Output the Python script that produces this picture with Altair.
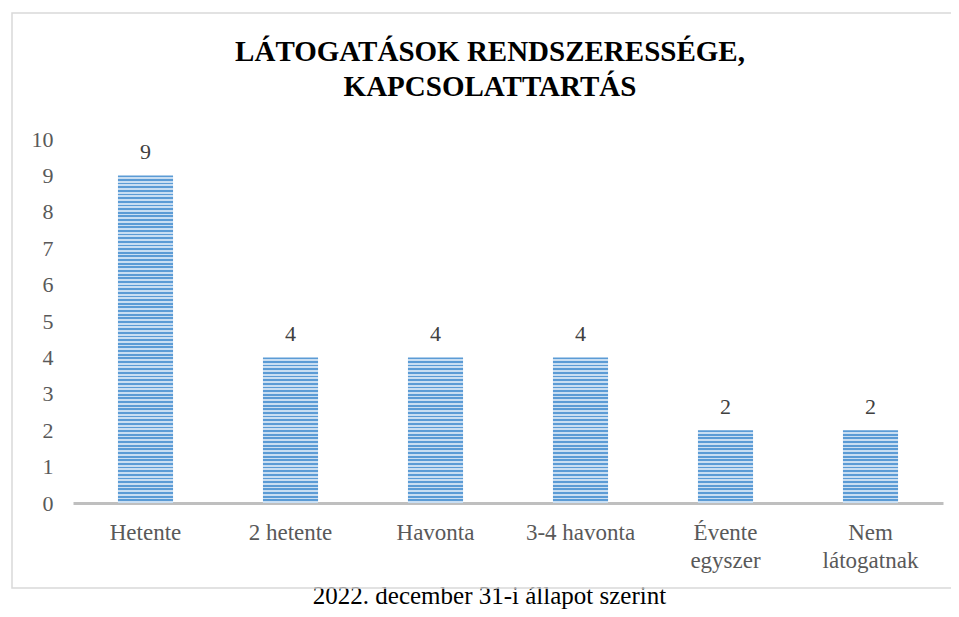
import altair as alt
import pandas as pd

categories = ["Hetente", "2 hetente", "Havonta", "3-4 havonta", "Évente\negyszer", "Nem\nlátogatnak"]
values = [9, 4, 4, 4, 2, 2]
y_ticks = [0, 1, 2, 3, 4, 5, 6, 7, 8, 9, 10]
title_lines = ["LÁTOGATÁSOK RENDSZERESSÉGE,", "KAPCSOLATTARTÁS"]
footer = "2022. december 31-i állapot szerint"

df = pd.DataFrame({"cat": categories, "val": values})

FONT = "Liberation Serif"
W, H = 870, 364
DARK, LIGHT = "#5b9bd5", "#c9def2"


def stripes(v):
    n = max(1, int(round(v * 10)))
    stops = []
    for i in range(n):
        a, m, b = i / n, (i + 0.5) / n, (i + 1) / n
        stops += [
            {"offset": a, "color": DARK},
            {"offset": m, "color": DARK},
            {"offset": m, "color": LIGHT},
            {"offset": b, "color": LIGHT},
        ]
    return alt.Gradient(gradient="linear", x1=0, y1=0, x2=0, y2=1, stops=stops)


x_enc = alt.X(
    "cat:N",
    sort=categories,
    scale=alt.Scale(paddingInner=0.62, paddingOuter=0.31),
    axis=alt.Axis(
        title=footer,
        labelAngle=0,
        ticks=False,
        grid=False,
        domainColor="#bfbfbf",
        domainWidth=3,
        labelFont=FONT,
        labelFontSize=23,
        labelColor="#595959",
        labelPadding=18,
        labelLineHeight=28,
        labelExpr="split(datum.label, '\\n')",
        titleFont=FONT,
        titleFontSize=25,
        titleFontWeight="normal",
        titleColor="#000000",
        titleX=416,
        titleY=100,
        titleAlign="center",
        titleBaseline="alphabetic",
    ),
)
y_enc = alt.Y(
    "val:Q",
    scale=alt.Scale(domain=[0, 10], nice=False),
    axis=alt.Axis(
        title=None,
        values=y_ticks,
        domain=False,
        ticks=False,
        grid=False,
        labelOverlap=False,
        labelFont=FONT,
        labelFontSize=22,
        labelColor="#595959",
        labelPadding=20,
    ),
)

base = alt.Chart(df)

border = alt.Chart(pd.DataFrame({"a": [0]})).mark_rect(
    fill="transparent", stroke="#d9d9d9", strokeWidth=1.5
).encode(
    x=alt.value(-61), x2=alt.value(930), y=alt.value(-126), y2=alt.value(449)
)

bar_layers = []
for c, v in zip(categories, values):
    bar_layers.append(
        base.transform_filter(alt.datum.cat == c)
        .mark_bar(fill=stripes(v))
        .encode(x=x_enc, y=y_enc)
    )

labels = base.mark_text(
    font=FONT, fontSize=22, color="#404040", baseline="alphabetic", dy=-16
).encode(x=x_enc, y=y_enc, text="val:Q")

chart = alt.layer(border, *bar_layers, labels).properties(
    width=W,
    height=H,
    padding={"left": 65, "top": 131, "right": 8, "bottom": 106},
    autosize=alt.AutoSizeParams(type="none"),
    title=alt.TitleParams(
        text=title_lines,
        font=FONT,
        fontSize=29,
        fontWeight="bold",
        color="#000000",
        lineHeight=35,
        anchor="middle",
        frame="group",
        dx=-18,
        offset=-119,
        baseline="bottom",
    ),
).configure_view(stroke=None)

chart.save("out.html", embed_options={"renderer": "svg", "actions": False})
